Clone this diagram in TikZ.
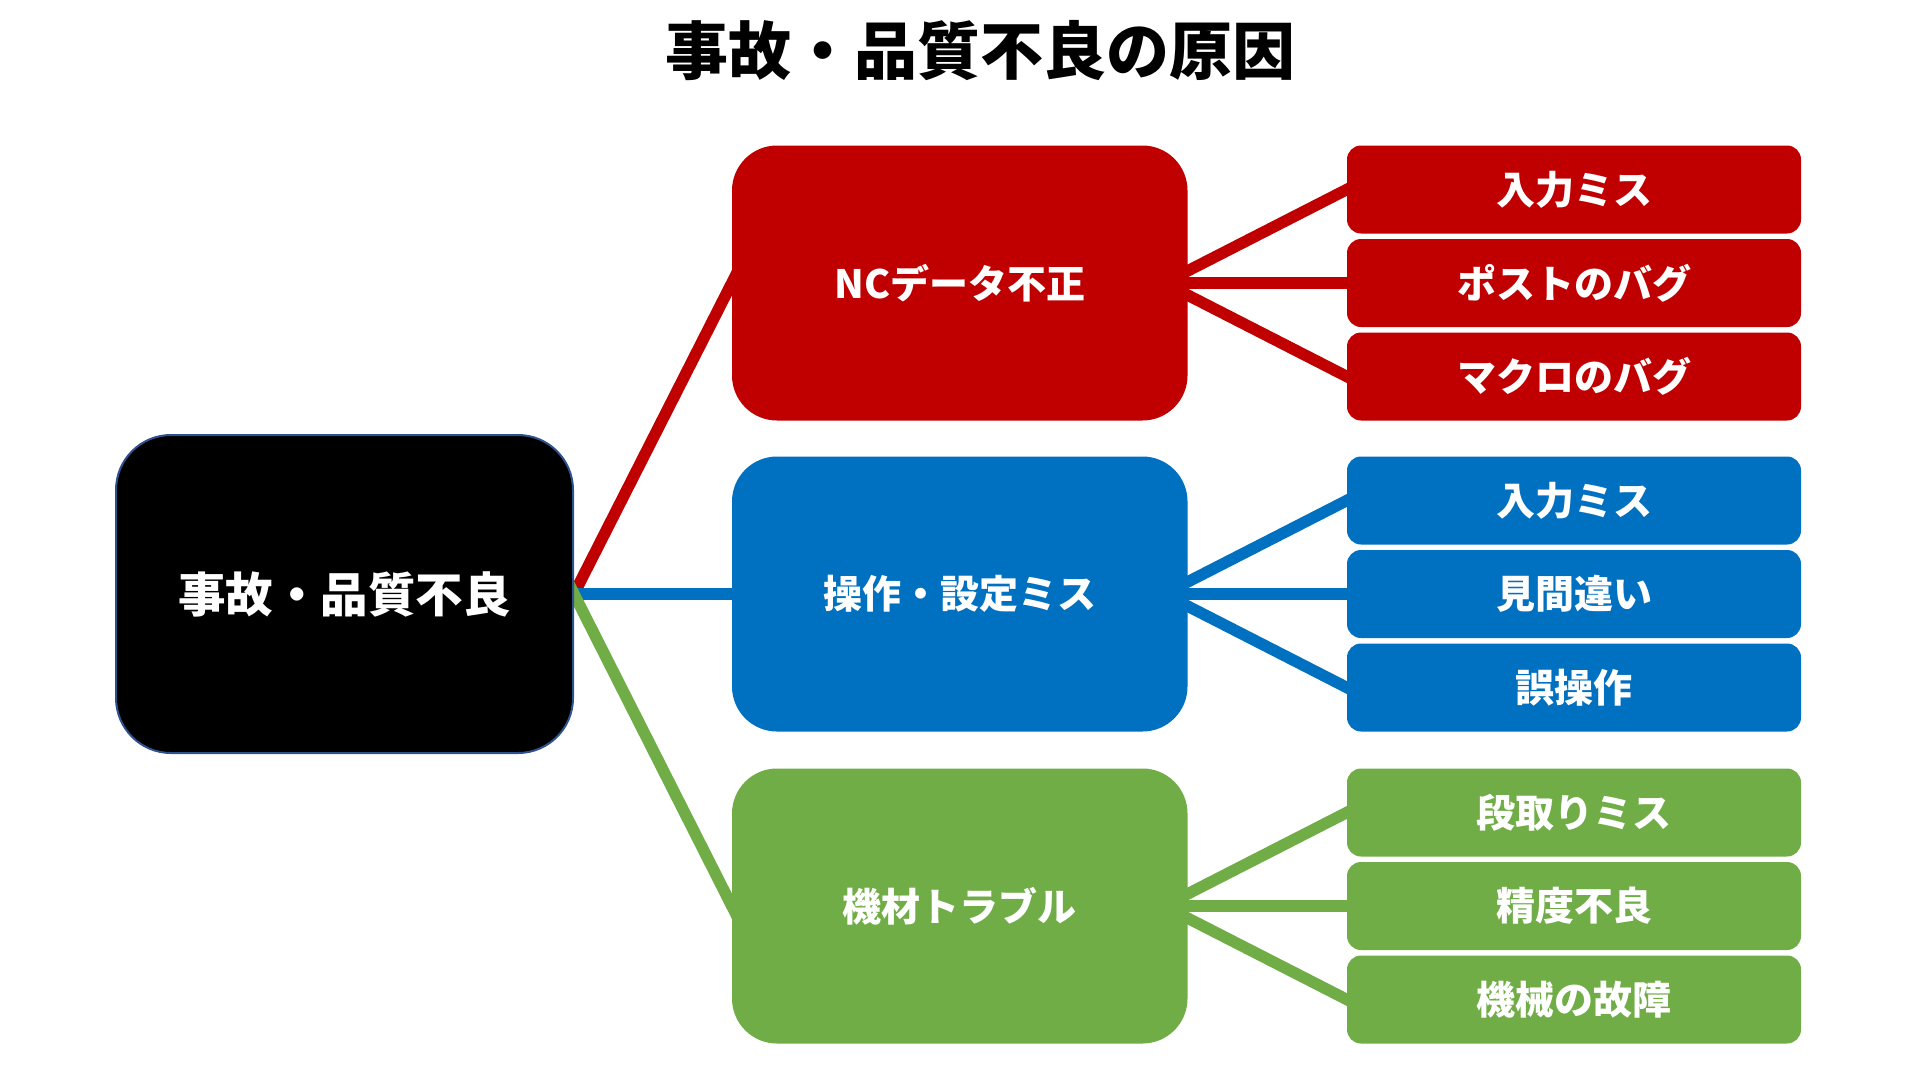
\documentclass[tikz,border=0pt]{standalone}
\usepackage{fontspec}
\setmainfont{Noto Sans CJK JP}
\usetikzlibrary{backgrounds,calc}
\definecolor{cred}{HTML}{C00000}
\definecolor{cblue}{HTML}{0070C0}
\definecolor{cgreen}{HTML}{70AD47}
\definecolor{rootborder}{HTML}{2F528F}
\begin{document}
\begin{tikzpicture}[x=1pt,y=-1pt,
  titletext/.style={font=\fontsize{63}{66}\selectfont\bfseries, text=black, inner sep=0pt},
  rootbox/.style={fill=black, draw=rootborder, line width=2pt, rounded corners=55pt,
    minimum width=457pt, minimum height=318pt, inner sep=0pt, text=white,
    font=\fontsize{47.5}{50}\selectfont\bfseries},
  midbox/.style={rounded corners=45pt, minimum width=455.5pt, minimum height=275pt,
    inner sep=0pt, text=white, font=\fontsize{39}{42}\selectfont\bfseries},
  leafbox/.style={rounded corners=14pt, minimum width=454pt, minimum height=88pt,
    inner sep=0pt, text=white, font=\fontsize{39}{42}\selectfont\bfseries},
  link/.style={line width=11.5pt, shorten <=-15pt, shorten >=-12pt},
]
\useasboundingbox (0,0) rectangle (1920,1080);

\node[titletext] (title) at (980,51) {事故・品質不良の原因};

\node[rootbox] (root) at (344.5,594) {事故・品質不良};

\node[midbox, fill=cred]   (m1) at (959.75,283) {NCデータ不正};
\node[midbox, fill=cblue]  (m2) at (959.75,594) {操作・設定ミス};
\node[midbox, fill=cgreen] (m3) at (959.75,906) {機材トラブル};

\node[leafbox, fill=cred] (r11) at (1574,189.5) {入力ミス};
\node[leafbox, fill=cred] (r12) at (1574,283)   {ポストのバグ};
\node[leafbox, fill=cred] (r13) at (1574,376.5) {マクロのバグ};

\node[leafbox, fill=cblue] (r21) at (1574,500.5) {入力ミス};
\node[leafbox, fill=cblue] (r22) at (1574,594)   {見間違い};
\node[leafbox, fill=cblue] (r23) at (1574,687.5) {誤操作};

\node[leafbox, fill=cgreen] (r31) at (1574,812.5) {段取りミス};
\node[leafbox, fill=cgreen] (r32) at (1574,906)   {精度不良};
\node[leafbox, fill=cgreen] (r33) at (1574,999.5) {機械の故障};

\begin{scope}[on background layer]
  % root to middle
  \draw[link, cred]   (root.east) -- (m1.west);
  \draw[link, cblue]  (root.east) -- (m2.west);
  \draw[link, cgreen] (root.east) -- (m3.west);
  % middle to leaves
  \foreach \m/\c/\a/\b/\d in {m1/cred/r11/r12/r13, m2/cblue/r21/r22/r23, m3/cgreen/r31/r32/r33}{
    \draw[link, \c] ($(\m.east)+(-23.7,0)$) -- (\a.west);
    \draw[link, \c] ($(\m.east)+(-23.7,0)$) -- (\b.west);
    \draw[link, \c] ($(\m.east)+(-23.7,0)$) -- (\d.west);
  }
\end{scope}
\end{tikzpicture}
\end{document}
